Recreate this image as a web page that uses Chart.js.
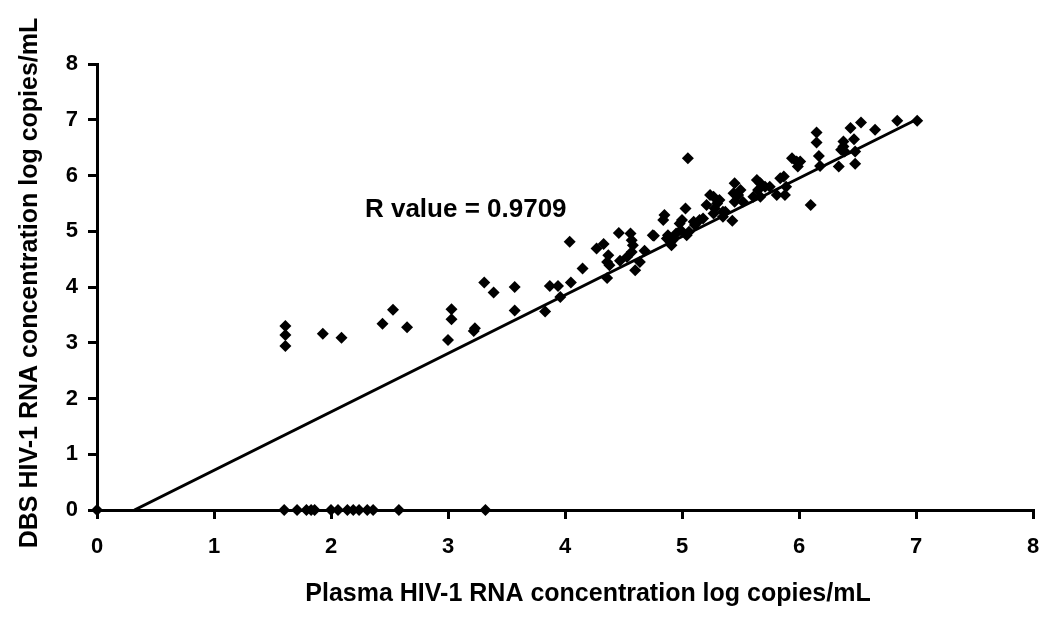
<!DOCTYPE html>
<html>
<head>
<meta charset="utf-8">
<script src="https://cdn.jsdelivr.net/npm/chart.js@4/dist/chart.umd.min.js"></script>
<style>
html,body{margin:0;padding:0;background:#fff;}
#wrap{width:1050px;height:621px;position:relative;}
</style>
</head>
<body>
<div id="wrap"><canvas id="c"></canvas></div>
<script>
// Plasma (x) vs DBS (y) HIV-1 RNA, log copies/mL
const plasmaX = [0, 1.60, 1.71, 1.79, 1.83, 1.86, 2.00, 2.06, 2.14, 2.19, 2.24, 2.31, 2.36, 2.58, 3.32,
  1.61, 1.61, 1.61, 1.93, 2.09, 2.44, 2.53, 2.65, 3.00, 3.03, 3.03, 3.22, 3.23, 3.31, 3.39, 3.57, 3.57,
  3.83, 3.87, 3.94, 3.96, 4.04, 4.05, 4.15, 4.27, 4.33, 4.36, 4.37, 4.36, 4.38, 4.46, 4.47, 4.53, 4.56,
  4.57, 4.58, 4.57, 4.60, 4.64, 4.68, 4.75, 4.76, 4.84, 4.85, 4.87, 4.90, 4.92, 4.91, 4.88, 4.98, 4.99,
  4.95, 5.00, 5.03, 5.04, 5.06, 5.05, 5.10, 5.11, 5.15, 5.18, 5.21, 5.24, 5.27, 5.28, 5.27, 5.30, 5.32,
  5.35, 5.37, 5.35, 5.43, 5.45, 5.44, 5.48, 5.50, 5.45, 5.52, 5.61, 5.64, 5.67, 5.65, 5.71, 5.75, 5.67,
  5.81, 5.88, 5.84, 5.87, 5.89, 5.94, 5.98, 5.99, 6.01, 6.10, 6.15, 6.15, 6.17, 6.18, 6.34, 6.38, 6.36,
  6.39, 6.38, 6.44, 6.47, 6.48, 6.48, 6.53, 6.65, 6.84, 7.01];
const dbsY = [0, 0, 0, 0, 0, 0, 0, 0, 0, 0, 0, 0, 0, 0, 0,
  3.30, 3.14, 2.94, 3.16, 3.09, 3.34, 3.59, 3.28, 3.05, 3.60, 3.42, 3.21, 3.26, 4.08, 3.90, 4.00, 3.58,
  3.56, 4.02, 4.02, 3.82, 4.81, 4.08, 4.33, 4.69, 4.77, 4.16, 4.57, 4.45, 4.39, 4.97, 4.47, 4.54, 4.96,
  4.84, 4.75, 4.63, 4.30, 4.45, 4.65, 4.93, 4.92, 5.20, 5.29, 4.87, 4.81, 4.84, 4.75, 4.93, 5.14, 5.02,
  4.96, 5.20, 5.41, 4.93, 4.99, 6.31, 5.17, 5.11, 5.20, 5.23, 5.47, 5.65, 5.62, 5.41, 5.32, 5.50, 5.56,
  5.35, 5.35, 5.26, 5.19, 5.86, 5.68, 5.65, 5.74, 5.53, 5.53, 5.62, 5.92, 5.86, 5.74, 5.80, 5.80, 5.62,
  5.65, 5.65, 5.95, 5.98, 5.80, 6.31, 6.25, 6.16, 6.25, 5.47, 6.77, 6.59, 6.35, 6.17, 6.16, 6.61, 6.46,
  6.43, 6.52, 6.85, 6.65, 6.43, 6.21, 6.95, 6.82, 6.98, 6.98];
// Regression line end points
const fitX = [0.32, 7.0];
const fitY = [0, 7.0];
const xTicks = [0, 1, 2, 3, 4, 5, 6, 7, 8];
const yTicks = [0, 1, 2, 3, 4, 5, 6, 7, 8];
const xTitle = 'Plasma HIV-1 RNA concentration log copies/mL';
const yTitle = 'DBS HIV-1 RNA concentration log copies/mL';
const rLabel = 'R value = 0.9709';

const FONT = "'Liberation Sans', Arial, sans-serif";
const points = plasmaX.map((x, i) => ({x: x, y: dbsY[i]}));
const fit = fitX.map((x, i) => ({x: x, y: fitY[i]}));

const textPlugin = {
  id: 'texts',
  afterDatasetsDraw(chart) {
    const {ctx, scales} = chart;
    ctx.save();
    ctx.fillStyle = '#000';
    // R value annotation
    ctx.font = "bold 26px " + FONT;
    ctx.textAlign = 'left';
    ctx.textBaseline = 'middle';
    ctx.fillText(rLabel, scales.x.getPixelForValue(2.29), scales.y.getPixelForValue(5.38));
    // x axis title
    ctx.font = "bold 25px " + FONT;
    ctx.textAlign = 'center';
    ctx.fillText(xTitle, 588, 594);
    // y axis title
    ctx.translate(30, 283);
    ctx.rotate(-Math.PI / 2);
    ctx.fillText(yTitle, 0, 0);
    ctx.restore();
  }
};

const axisCommon = {
  type: 'linear',
  min: 0, max: 8,
  grid: {drawOnChartArea: false, drawTicks: true, tickLength: 9, color: '#000', lineWidth: 3},
  border: {display: true, color: '#000', width: 3},
};

new Chart(document.getElementById('c'), {
  type: 'scatter',
  data: {
    datasets: [
      {
        label: 'data',
        data: points,
        pointStyle: 'rectRot',
        pointRadius: 6,
        pointBackgroundColor: '#000',
        pointBorderColor: '#000',
        pointBorderWidth: 0,
        showLine: false,
        clip: false
      },
      {
        label: 'fit',
        type: 'line',
        data: fit,
        borderColor: '#000',
        borderWidth: 3,
        pointRadius: 0,
        fill: false,
        tension: 0
      }
    ]
  },
  options: {
    responsive: true,
    maintainAspectRatio: false,
    animation: false,
    layout: {padding: {top: 64, right: 17, left: 0, bottom: 0}},
    plugins: {legend: {display: false}, tooltip: {enabled: false}},
    scales: {
      x: Object.assign({}, axisCommon, {
        position: 'bottom',
        afterBuildTicks: s => { s.ticks = xTicks.map(v => ({value: v})); },
        afterFit: s => { s.height = 111; s.paddingLeft = 0; s.paddingRight = 0; },
        ticks: {color: '#000', font: {family: FONT, size: 22, weight: 'bold'}, padding: 15, maxRotation: 0},
        title: {display: false}
      }),
      y: Object.assign({}, axisCommon, {
        position: 'left',
        afterBuildTicks: s => { s.ticks = yTicks.map(v => ({value: v})); },
        afterFit: s => { s.width = 97; s.paddingTop = 0; s.paddingBottom = 0; },
        ticks: {color: '#000', font: {family: FONT, size: 22, weight: 'bold'}, padding: 10},
        title: {display: false}
      })
    }
  },
  plugins: [textPlugin]
});
</script>
</body>
</html>
